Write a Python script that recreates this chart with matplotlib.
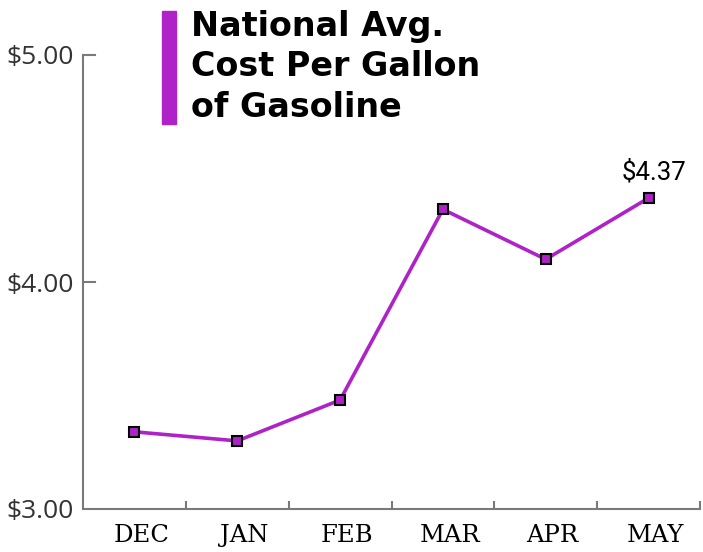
import matplotlib
matplotlib.use("Agg")
import matplotlib.pyplot as plt
import matplotlib.transforms as mtransforms
from matplotlib.patches import Rectangle

months = ["DEC", "JAN", "FEB", "MAR", "APR", "MAY"]
prices = [3.34, 3.30, 3.48, 4.32, 4.10, 4.37]
ytick_vals = [3.0, 4.0, 5.0]
ytick_labels = ["$3.00", "$4.00", "$5.00"]
title_lines = "National Avg.\nCost Per Gallon\nof Gasoline"
last_label = "$4.37"

purple = "#AE22C8"
axis_grey = "#7a7a7a"

fig = plt.figure(figsize=(7.03, 5.52), dpi=100)
ax = fig.add_axes([83/703, 1-509/552, (700-83)/703, (509-55)/552])

x = list(range(len(months)))
ax.plot(x, prices, color=purple, lw=2.6, zorder=3,
        marker="s", markersize=7.5, markerfacecolor=purple,
        markeredgecolor="black", markeredgewidth=1.5)

ax.set_xlim(-0.5, len(months) - 0.5)
ax.set_ylim(3.0, 5.0)

for s in ["top", "right"]:
    ax.spines[s].set_visible(False)
for s in ["left", "bottom"]:
    ax.spines[s].set_color(axis_grey)
    ax.spines[s].set_linewidth(1.5)

ax.set_xticks(x)
ax.set_xticklabels(months, fontfamily="DejaVu Serif", fontsize=17.5, color="black")
ax.tick_params(axis="x", length=0, pad=11)
shift = mtransforms.ScaledTranslation(7/100, 0, fig.dpi_scale_trans)
for lbl in ax.get_xticklabels():
    lbl.set_transform(lbl.get_transform() + shift)
ax.set_xticks([i + 0.5 for i in x], minor=True)
ax.tick_params(axis="x", which="minor", direction="in", length=6, width=1.5, color=axis_grey)

ax.set_yticks(ytick_vals)
ax.set_yticklabels(ytick_labels, fontfamily="Open Sans", fontsize=19, color="#333333")
ax.tick_params(axis="y", direction="out", length=0, pad=7)
for v in ytick_vals[1:]:
    ax.plot([-0.5, -0.38], [v, v], color=axis_grey, lw=1.5, clip_on=False, zorder=2)

ax.annotate(last_label, (x[-1], prices[-1]), xytext=(4, 10), textcoords="offset points",
            ha="center", va="bottom", fontfamily="Roboto", fontsize=18.5, color="black")

fig.patches.append(Rectangle((162/703, 1-124/552), 14/703, 113/552,
                             transform=fig.transFigure, color=purple))
fig.text(191/703, 1-10/552, title_lines, ha="left", va="top",
         fontfamily="DejaVu Sans", fontweight="bold", fontsize=24,
         linespacing=1.28, color="black")

fig.savefig("out.png", dpi=100)
